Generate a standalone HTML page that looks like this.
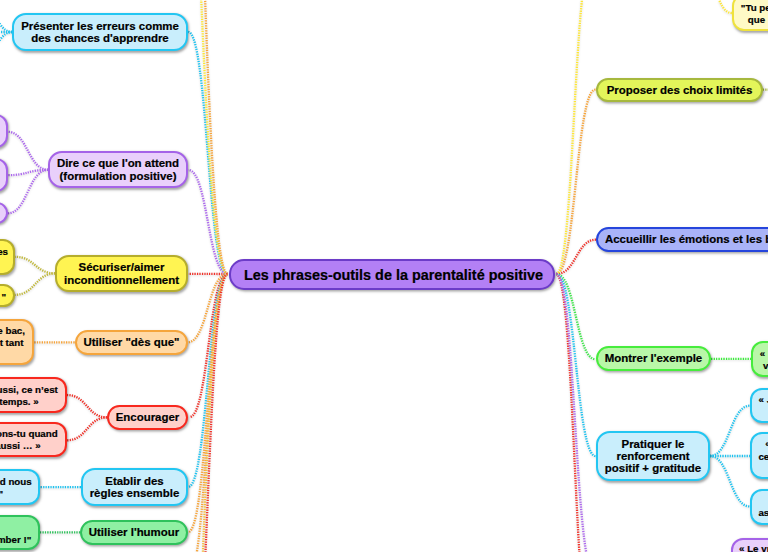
<!DOCTYPE html>
<html><head><meta charset="utf-8"><style>
html,body{margin:0;padding:0;}
body{width:768px;height:552px;overflow:hidden;position:relative;background:#fff;font-family:"Liberation Sans",sans-serif;}
svg{position:absolute;left:0;top:0;filter:drop-shadow(0.5px 1.5px 1px rgba(0,0,0,.16));}
svg path{fill:none;stroke-width:2.3;stroke-dasharray:1.3 1.15;}
.n{position:absolute;box-sizing:border-box;border:2px solid;display:flex;align-items:center;justify-content:center;text-align:center;font-weight:bold;color:#000;box-shadow:1px 1.5px 2.5px rgba(0,0,0,.35);white-space:nowrap;}
.acc{justify-content:flex-start;padding-left:7px;}
.ctr{padding-left:3px;padding-top:1px;}
.n,.t{-webkit-text-stroke:0.2px #000;}
.t{position:absolute;font-weight:bold;font-size:9.75px;line-height:1;white-space:nowrap;color:#000;}
</style></head><body>
<svg width="768" height="552" viewBox="0 0 768 552"><path d="M227.5 274.0C207.8 274.0 207.8 273.8 188.2 273.8" stroke="#f0322a"/><path d="M227.5 274.0C207.9 274.0 207.9 170.0 188.3 170.0" stroke="#ad68ee"/><path d="M227.5 274.0C207.8 274.0 207.8 32.0 188.2 32.0" stroke="#1ec3f0"/><path d="M227.5 274.0C192.2 274.0 192.2 -775.0 157.0 -775.0" stroke="#ffe733"/><path d="M227.5 274.0C196.8 274.0 196.8 -825.0 166.0 -825.0" stroke="#f7a43a"/><path d="M227.5 274.0C207.7 274.0 207.7 342.3 187.8 342.3" stroke="#f7a43a"/><path d="M227.5 274.0C208.5 274.0 208.5 417.0 189.5 417.0" stroke="#f0322a"/><path d="M227.5 274.0C207.8 274.0 207.8 487.0 188.1 487.0" stroke="#1ec3f0"/><path d="M227.5 274.0C207.8 274.0 207.8 532.3 188.0 532.3" stroke="#f7a43a"/><path d="M227.5 274.0C207.8 274.0 207.8 577.0 188.0 577.0" stroke="#f7a43a"/><path d="M227.5 274.0C196.8 274.0 196.8 1175.0 166.0 1175.0" stroke="#f7bd3a"/><path d="M227.5 274.0C207.2 274.0 207.2 750.0 187.0 750.0" stroke="#f0322a"/><path d="M556.3 274.0C575.9 274.0 575.9 89.6 595.5 89.6" stroke="#f7a43a"/><path d="M556.3 274.0C576.1 274.0 576.1 239.7 596.0 239.7" stroke="#f0322a"/><path d="M556.3 274.0C574.1 274.0 574.1 -44.0 592.0 -44.0" stroke="#ffe733"/><path d="M556.3 274.0C575.9 274.0 575.9 359.2 595.5 359.2" stroke="#3ee84a"/><path d="M556.3 274.0C576.0 274.0 576.0 456.1 595.7 456.1" stroke="#1ec3f0"/><path d="M556.3 274.0C574.6 274.0 574.6 650.0 593.0 650.0" stroke="#f0322a"/><path d="M556.3 274.0C575.1 274.0 575.1 573.0 594.0 573.0" stroke="#ad68ee"/><path d="M48.3 169.8C27.9 169.8 27.9 131.8 7.6 131.8" stroke="#ad68ee"/><path d="M48.3 169.8C27.9 169.8 27.9 175.2 7.6 175.2" stroke="#ad68ee"/><path d="M48.3 169.8C27.9 169.8 27.9 213.3 7.6 213.3" stroke="#ad68ee"/><path d="M55.3 273.4C35.1 273.4 35.1 256.8 14.9 256.8" stroke="#c0b83a"/><path d="M55.3 273.4C35.1 273.4 35.1 294.8 14.9 294.8" stroke="#c0b83a"/><path d="M74.7 342.3C54.0 342.3 54.0 342.3 33.2 342.3" stroke="#f7a43a"/><path d="M107.2 417.4C87.1 417.4 87.1 395.0 66.9 395.0" stroke="#f0322a"/><path d="M107.2 417.4C87.1 417.4 87.1 440.3 66.9 440.3" stroke="#f0322a"/><path d="M81.0 487.1C60.6 487.1 60.6 487.1 40.3 487.1" stroke="#1ec3f0"/><path d="M80.3 532.3C60.1 532.3 60.1 532.3 40.0 532.3" stroke="#2fc25c"/><path d="M12.2 32.0C-7.9 32.0 -7.9 -16.0 -28.0 -16.0" stroke="#1ec3f0"/><path d="M12.2 32.0C-8.9 32.0 -8.9 32.0 -30.0 32.0" stroke="#1ec3f0"/><path d="M12.2 32.0C-7.9 32.0 -7.9 80.0 -28.0 80.0" stroke="#1ec3f0"/><path d="M762.6 89.6C781.3 89.6 781.3 89.6 800.0 89.6" stroke="#a6b83e"/><path d="M711.0 358.9C731.0 358.9 731.0 358.9 751.0 358.9" stroke="#3aee3a"/><path d="M710.0 456.0C730.0 456.0 730.0 405.6 750.1 405.6" stroke="#1ec3f0"/><path d="M710.0 456.0C730.0 456.0 730.0 456.0 750.1 456.0" stroke="#1ec3f0"/><path d="M710.0 456.0C730.0 456.0 730.0 506.5 750.1 506.5" stroke="#1ec3f0"/><path d="M731.8 13.0C715.9 13.0 715.9 -30.0 700.0 -30.0" stroke="#ffe733"/></svg>
<div class="n " style="left:12.0px;top:13.0px;width:176.0px;height:38.0px;background:#c9eefc;border-color:#22c6f2;border-radius:14px;font-size:11.45px;line-height:12.3px">Présenter les erreurs comme<br>des chances d'apprendre</div>
<div class="n " style="left:48.0px;top:151.0px;width:140.0px;height:37.0px;background:#e9d0fb;border-color:#a563e8;border-radius:14px;font-size:11.45px;line-height:12.3px">Dire ce que l'on attend<br>(formulation positive)</div>
<div class="n " style="left:55.0px;top:255.0px;width:133.0px;height:37.0px;background:#fff452;border-color:#b5ad2c;border-radius:14px;font-size:11.45px;line-height:12.3px">Sécuriser/aimer<br>inconditionnellement</div>
<div class="n " style="left:75.0px;top:330.0px;width:113.0px;height:25.0px;background:#ffd9a6;border-color:#f5a53c;border-radius:14px;font-size:11.45px;line-height:12.3px">Utiliser "dès que"</div>
<div class="n " style="left:107.0px;top:405.0px;width:81.0px;height:25.0px;background:#ffd0ca;border-color:#f8281e;border-radius:14px;font-size:11.45px;line-height:12.3px">Encourager</div>
<div class="n " style="left:81.0px;top:468.0px;width:107.0px;height:38.0px;background:#c9eefc;border-color:#22c6f2;border-radius:14px;font-size:11.45px;line-height:12.3px">Etablir des<br>règles ensemble</div>
<div class="n " style="left:80.0px;top:520.0px;width:108.0px;height:25.0px;background:#8ff0a3;border-color:#2fc25c;border-radius:14px;font-size:11.45px;line-height:12.3px">Utiliser l'humour</div>
<div class="n ctr" style="left:229.0px;top:259.0px;width:326.0px;height:30.5px;background:#b380f5;border-color:#6c3cc8;border-radius:15px;font-size:14.4px;line-height:16px">Les phrases-outils de la parentalité positive</div>
<div class="n " style="left:596.0px;top:77.5px;width:167.0px;height:24.8px;background:#e3f55a;border-color:#a6b83e;border-radius:14px;font-size:11.45px;line-height:12.3px">Proposer des choix limités</div>
<div class="n acc" style="left:596.0px;top:227.0px;width:264.0px;height:25.0px;background:#a9b3f8;border-color:#2545dc;border-radius:14px;font-size:11.45px;line-height:12.3px">Accueillir les émotions et les besoins</div>
<div class="n " style="left:596.0px;top:346.0px;width:115.0px;height:25.0px;background:#b9f7a8;border-color:#46ec3c;border-radius:14px;font-size:11.45px;line-height:12.3px">Montrer l'exemple</div>
<div class="n " style="left:596.0px;top:431.0px;width:114.0px;height:50.0px;background:#c9eefc;border-color:#22c6f2;border-radius:14px;font-size:11.45px;line-height:12.3px">Pratiquer le<br>renforcement<br>positif + gratitude</div>
<div class="n " style="left:-60.0px;top:114.0px;width:67.6px;height:33.6px;background:#e9d0fb;border-color:#a563e8;border-radius:12px;font-size:11.45px;line-height:12.3px"></div>
<div class="n " style="left:-60.0px;top:158.4px;width:67.6px;height:33.4px;background:#e9d0fb;border-color:#a563e8;border-radius:12px;font-size:11.45px;line-height:12.3px"></div>
<div class="n " style="left:-60.0px;top:202.3px;width:67.6px;height:22.2px;background:#e9d0fb;border-color:#a563e8;border-radius:12px;font-size:11.45px;line-height:12.3px"></div>
<div class="n " style="left:-80.0px;top:239.4px;width:94.9px;height:35.6px;background:#fff452;border-color:#b5ad2c;border-radius:12px;font-size:11.45px;line-height:12.3px"></div>
<div class="n " style="left:-80.0px;top:283.6px;width:94.9px;height:23.2px;background:#fff452;border-color:#b5ad2c;border-radius:12px;font-size:11.45px;line-height:12.3px"></div>
<div class="n " style="left:-100.0px;top:318.8px;width:133.5px;height:46.2px;background:#ffd9a6;border-color:#f5a53c;border-radius:12px;font-size:11.45px;line-height:12.3px"></div>
<div class="n " style="left:-100.0px;top:377.1px;width:166.9px;height:35.7px;background:#ffd0ca;border-color:#f8281e;border-radius:12px;font-size:11.45px;line-height:12.3px"></div>
<div class="n " style="left:-100.0px;top:421.5px;width:166.9px;height:35.9px;background:#ffd0ca;border-color:#f8281e;border-radius:12px;font-size:11.45px;line-height:12.3px"></div>
<div class="n " style="left:-100.0px;top:469.3px;width:140.3px;height:35.7px;background:#c9eefc;border-color:#22c6f2;border-radius:12px;font-size:11.45px;line-height:12.3px"></div>
<div class="n " style="left:-100.0px;top:514.7px;width:140.0px;height:35.7px;background:#8ff0a3;border-color:#2fc25c;border-radius:12px;font-size:11.45px;line-height:12.3px"></div>
<div class="n " style="left:731.8px;top:-6.0px;width:128.2px;height:36.5px;background:#fffac6;border-color:#efe23c;border-radius:12px;font-size:11.45px;line-height:12.3px"></div>
<div class="n " style="left:751.0px;top:341.2px;width:109.0px;height:35.8px;background:#b9f7a8;border-color:#46ec3c;border-radius:12px;font-size:11.45px;line-height:12.3px"></div>
<div class="n " style="left:750.0px;top:388.0px;width:110.0px;height:35.0px;background:#c9eefc;border-color:#22c6f2;border-radius:12px;font-size:11.45px;line-height:12.3px"></div>
<div class="n " style="left:750.0px;top:432.0px;width:110.0px;height:47.3px;background:#c9eefc;border-color:#22c6f2;border-radius:12px;font-size:11.45px;line-height:12.3px"></div>
<div class="n " style="left:750.0px;top:489.0px;width:110.0px;height:36.0px;background:#c9eefc;border-color:#22c6f2;border-radius:12px;font-size:11.45px;line-height:12.3px"></div>
<div class="n " style="left:731.0px;top:537.6px;width:129.0px;height:52.4px;background:#e9d0fb;border-color:#a563e8;border-radius:12px;font-size:11.45px;line-height:12.3px"></div>
<div class="t" style="right:760.0px;top:246.8px">choses</div>
<div class="t" style="left:1.6px;top:291.5px">"</div>
<div class="t" style="right:743.0px;top:325.7px">sur le bac,</div>
<div class="t" style="right:744.5px;top:337.8px">vait tant</div>
<div class="t" style="right:710.2px;top:385.0px">aussi, ce n’est</div>
<div class="t" style="right:729.3px;top:397.0px">temps. »</div>
<div class="t" style="right:710.3px;top:428.6px">rsons-tu quand</div>
<div class="t" style="right:727.4px;top:440.8px">aussi … »</div>
<div class="t" style="right:736.3px;top:476.9px">quand nous</div>
<div class="t" style="left:-1.5px;top:488.7px">"</div>
<div class="t" style="right:736.7px;top:534.7px">tomber !"</div>
<div class="t" style="left:740.8px;top:2.7px">"Tu peux</div>
<div class="t" style="left:747.8px;top:14.9px">que</div>
<div class="t" style="left:759.7px;top:348.7px">«</div>
<div class="t" style="left:763.0px;top:361.0px">vois</div>
<div class="t" style="left:758.5px;top:394.9px">« J’ai</div>
<div class="t" style="left:765.3px;top:439.2px">« Je</div>
<div class="t" style="left:758.4px;top:451.7px">ce que</div>
<div class="t" style="left:758.4px;top:508.0px">assez</div>
<div class="t" style="left:739.0px;top:544.4px">« Le vrai</div>
</body></html>
